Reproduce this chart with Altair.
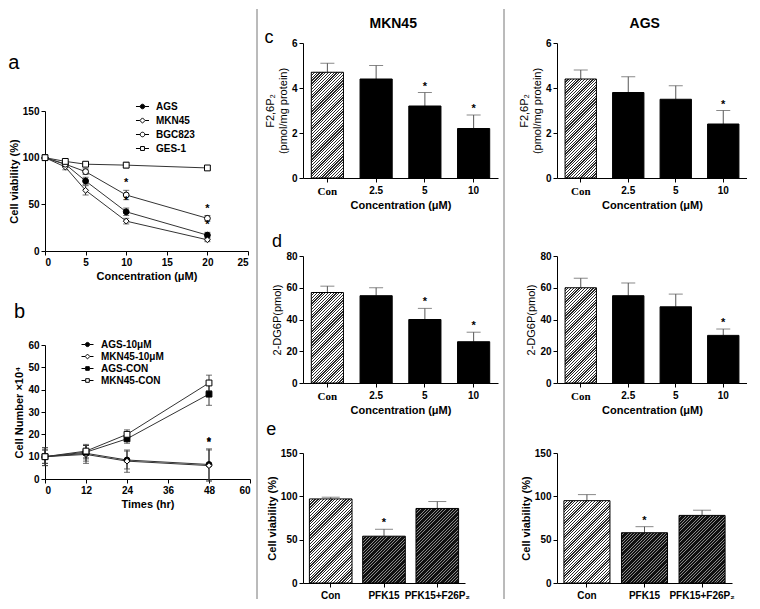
import altair as alt
import pandas as pd

# ---------------- data ----------------
# panel a: cell viability vs concentration
conc_a = [0, 2.5, 5, 10, 20]
series_a = ["AGS", "MKN45", "BGC823", "GES-1"]
ags_a = [100, 93, 75, 42, 17]
ags_a_err = [3, 3, 4, 4, 3]
ags_a_sig = [False, False, False, True, True]
mkn45_a = [100, 90, 65, 32, 12]
mkn45_a_err = [3, 3, 5, 3, 2]
mkn45_a_sig = [False, False, False, False, False]
bgc823_a = [100, 93, 85, 60, 35]
bgc823_a_err = [3, 3, 3, 5, 3]
bgc823_a_sig = [False, False, False, True, True]
ges1_a = [100, 96, 93, 92, 89]
ges1_a_err = [3, 2, 2, 3, 2]
ges1_a_sig = [False, False, False, False, False]

# panel b: cell number vs time
time_b = [0, 12, 24, 48]
series_b = ["AGS-10μM", "MKN45-10μM", "AGS-CON", "MKN45-CON"]
ags10_b = [10, 11.5, 8.5, 6.5]
ags10_b_err = [4, 3.5, 4, 7]
ags10_b_sig = [False, False, False, True]
mkn10_b = [10, 11, 8, 6]
mkn10_b_err = [4, 4, 5, 7]
mkn10_b_sig = [False, False, False, True]
agscon_b = [10, 12, 18, 38]
agscon_b_err = [3, 3, 2, 5]
agscon_b_sig = [False, False, False, False]
mkncon_b = [10, 12.5, 20, 43]
mkncon_b_err = [3, 3, 2, 3.5]
mkncon_b_sig = [False, False, False, False]

# panels c, d: concentration categories
conc_cats = ["Con", "2.5", "5", "10"]
f26_mkn = [4.7, 4.4, 3.2, 2.2]
f26_mkn_err = [0.4, 0.6, 0.6, 0.6]
f26_mkn_sig = [False, False, True, True]
f26_ags = [4.4, 3.8, 3.5, 2.4]
f26_ags_err = [0.4, 0.7, 0.6, 0.6]
f26_ags_sig = [False, False, False, True]
dg_mkn = [57, 55, 40, 26]
dg_mkn_err = [4, 5, 7, 6]
dg_mkn_sig = [False, False, True, True]
dg_ags = [60, 55, 48, 30]
dg_ags_err = [6, 8, 8, 4]
dg_ags_sig = [False, False, False, True]

# panel e: treatment categories
treat_cats = ["Con", "PFK15", "PFK15+F26P₂"]
via_mkn = [97, 54, 86]
via_mkn_err = [2, 8, 8]
via_mkn_sig = [False, True, False]
via_ags = [95, 58, 78]
via_ags_err = [7, 7, 6]
via_ags_sig = [False, True, False]

FONT = "Liberation Sans"
LINE = "#333333"

# legend symbols: short line with a marker on it
P_CIRCLE = "M-1,0H-0.35A0.35,0.35 0 1,1 0.35,0H1M0.35,0A0.35,0.35 0 1,1 -0.35,0"
P_DIAMOND = "M-1,0H-0.4L0,-0.4L0.4,0H1M0.4,0L0,0.4L-0.4,0"
P_SQUARE = "M-1,0H-0.3V-0.3H0.3V0H1M0.3,0V0.3H-0.3V0"


def series_df(xs, names, vals, errs, sigs, shapes, fills):
    rows = []
    for n, v, e, s, sh, fl in zip(names, vals, errs, sigs, shapes, fills):
        for xi, vi, ei, si in zip(xs, v, e, s):
            rows.append(dict(series=n, x=xi, y=vi, lo=vi - ei, hi=vi + ei, sig=si,
                             shp=sh, fil=fl))
    return pd.DataFrame(rows)


def line_panel(df, order, fills, leg_paths, xdom, xticks, ydom, yticks,
               xtitle, ytitle, title, w, h, legx, legy, symsize, rowpad, laboff):
    base = alt.Chart(df)
    xax = alt.Axis(values=xticks, title=xtitle, format="d")
    yax = alt.Axis(values=yticks, title=ytitle)
    xs = alt.Scale(domain=xdom, nice=False, zero=False, padding=0)
    ys = alt.Scale(domain=ydom, nice=False, padding=0)

    def X():
        return alt.X("x:Q", scale=xs, axis=xax)

    def Y(f):
        return alt.Y(f, scale=ys, axis=yax)

    lines = base.mark_line(color=LINE, strokeWidth=1).encode(X(), Y("y:Q"), detail="series:N")
    err = base.mark_rule(color=LINE, strokeWidth=1).encode(X(), Y("lo:Q"), alt.Y2("hi:Q"))
    cap_lo = base.mark_tick(orient="horizontal", size=6, thickness=1, color=LINE).encode(X(), Y("lo:Q"))
    cap_hi = base.mark_tick(orient="horizontal", size=6, thickness=1, color=LINE).encode(X(), Y("hi:Q"))
    pts = base.mark_point(filled=True, size=34, opacity=1, stroke="black", strokeWidth=1).encode(
        X(), Y("y:Q"),
        shape=alt.Shape("shp:N", scale=None, legend=None),
        fill=alt.Fill("fil:N", scale=None, legend=None),
    )
    stars = base.transform_filter("datum.sig").mark_text(
        text="*", dy=-7, fontSize=11, fontWeight="bold", color="black", font=FONT
    ).encode(X(), Y("hi:Q"))
    leg = alt.Legend(orient="none", legendX=legx, legendY=legy, title=None,
                     symbolSize=symsize, rowPadding=rowpad, labelOffset=laboff,
                     labelFont=FONT, labelFontSize=10, labelFontWeight="bold",
                     labelColor="black", symbolStrokeWidth=1, symbolOpacity=1)
    legl = base.transform_filter("false").mark_point(
        filled=True, opacity=1, strokeWidth=1
    ).encode(
        X(), Y("y:Q"),
        shape=alt.Shape("series:N", scale=alt.Scale(domain=order, range=leg_paths), legend=leg),
        fill=alt.Fill("series:N", scale=alt.Scale(domain=order, range=fills), legend=leg),
        stroke=alt.Stroke("series:N", scale=alt.Scale(domain=order, range=["black"] * len(order)),
                          legend=leg),
    )
    return alt.layer(lines, err, cap_lo, cap_hi, pts, stars, legl).resolve_scale(
        shape="independent", fill="independent", stroke="independent"
    ).properties(width=w, height=h, title=title)


# hatch styles: (line colour, background colour, share of line, period in px)
HATCH_LIGHT = ("#2a2a2a", "#ffffff", 0.45, 2.8)
HATCH_DARK = ("#111111", "#8a8a8a", 0.72, 2.8)
SOLID = None


def hatch(style, bw, bh):
    """Diagonal '/' stripes as a linear gradient over the bar's box."""
    if style is None:
        return "black"
    c_line, c_bg, share, period = style
    bh = max(bh, 1.0)
    k = (bw + bh) / (bw * bw + bh * bh)
    n = max(1, int(round((bw + bh) / period)))
    stops = []
    for i in range(n):
        a, m, b = i / n, (i + share) / n, (i + 1) / n
        stops += [alt.GradientStop(offset=a, color=c_line), alt.GradientStop(offset=m, color=c_line),
                  alt.GradientStop(offset=m, color=c_bg), alt.GradientStop(offset=b, color=c_bg)]
    return alt.LinearGradient(gradient="linear", x1=0, y1=0, x2=k * bw, y2=k * bh, stops=stops)


def bar_panel(cats, vals, errs, sigs, styles, ydom, yticks, ytitle, ytw, xtitle,
              title, w, h, pin, pout, capsize, con_serif):
    df = pd.DataFrame({"cat": cats, "val": vals,
                       "hi": [v + e for v, e in zip(vals, errs)], "sig": sigs})
    base = alt.Chart(df)
    if con_serif:
        lfont = {"condition": {"test": "datum.value === 'Con'", "value": "Liberation Serif"},
                 "value": FONT}
        lsize = {"condition": {"test": "datum.value === 'Con'", "value": 11}, "value": 10}
    else:
        lfont = FONT
        lsize = 10
    xax = alt.Axis(title=xtitle, labelAngle=0, labelFont=lfont, labelFontSize=lsize,
                   labelPadding=3)
    yax = alt.Axis(values=yticks, title=ytitle, titleFontWeight=ytw)
    xs = alt.Scale(domain=cats, paddingInner=pin, paddingOuter=pout)
    ys = alt.Scale(domain=ydom, nice=False)

    def X():
        return alt.X("cat:N", sort=cats, scale=xs, axis=xax)

    def Y(f):
        return alt.Y(f, scale=ys, axis=yax)

    step = w / (len(cats) - pin + 2 * pout)
    bw = step * (1 - pin)
    err = base.mark_rule(color="#555555", strokeWidth=1).encode(X(), Y("val:Q"), alt.Y2("hi:Q"))
    cap = base.mark_tick(color="#555555", size=capsize, thickness=1).encode(X(), Y("hi:Q"))
    bars = []
    for cat, val, st in zip(cats, vals, styles):
        bh = (val - ydom[0]) / (ydom[1] - ydom[0]) * h
        bars.append(
            base.transform_filter(alt.datum.cat == cat).mark_bar(
                fill=hatch(st, bw, bh), stroke="black", strokeWidth=1
            ).encode(X(), Y("val:Q"))
        )
    stars = base.transform_filter("datum.sig").mark_text(
        text="*", dy=-6, fontSize=11, fontWeight="bold", color="black", font=FONT
    ).encode(X(), Y("hi:Q"))
    return alt.layer(err, cap, *bars, stars).properties(width=w, height=h, title=title)


def ptitle(text, size=20, offset=2, lh=20):
    return alt.TitleParams(text=text, fontSize=size, fontWeight="normal", anchor="start",
                           frame="bounds", offset=offset, lineHeight=lh, font=FONT,
                           color="black")


# ---------------- left column ----------------
shapes_a = ["circle", "diamond", "circle", "square"]
fills_a = ["black", "white", "white", "white"]
df_a = series_df(conc_a, series_a,
                 [ags_a, mkn45_a, bgc823_a, ges1_a],
                 [ags_a_err, mkn45_a_err, bgc823_a_err, ges1_a_err],
                 [ags_a_sig, mkn45_a_sig, bgc823_a_sig, ges1_a_sig], shapes_a, fills_a)
panel_a = line_panel(
    df_a, series_a, fills_a, [P_CIRCLE, P_DIAMOND, P_CIRCLE, P_SQUARE],
    [0, 25], [0, 5, 10, 15, 20, 25], [0, 150], [0, 50, 100, 150],
    "Concentration (μM)", "Cell viability (%)", ptitle("a", 20, 26),
    203, 140, 90, -12, 170, 1, 6)

shapes_b = ["circle", "diamond", "square", "square"]
fills_b = ["black", "white", "black", "white"]
df_b = series_df(time_b, series_b,
                 [ags10_b, mkn10_b, agscon_b, mkncon_b],
                 [ags10_b_err, mkn10_b_err, agscon_b_err, mkncon_b_err],
                 [ags10_b_sig, mkn10_b_sig, agscon_b_sig, mkncon_b_sig], shapes_b, fills_b)
panel_b = line_panel(
    df_b, series_b, fills_b, [P_CIRCLE, P_DIAMOND, P_SQUARE, P_SQUARE],
    [0, 60], [0, 12, 24, 36, 48, 60], [0, 60], [0, 10, 20, 30, 40, 50, 60],
    "Times (hr)", "Cell Number ×10⁴", ptitle([" ", "b"], 20, 16, 18),
    205, 134, 36, -7, 144, 0, 7)

# a small empty strip that lines panel a up under the column titles
spacer = alt.Chart(pd.DataFrame({"v": [0]})).mark_point(opacity=0).encode(
    x=alt.value(0), y=alt.value(0)
).properties(width=200, height=7)

left = alt.vconcat(spacer, panel_a, panel_b, spacing=3)

# ---------------- middle / right columns ----------------
st_conc = [HATCH_LIGHT, SOLID, SOLID, SOLID]
st_treat = [HATCH_LIGHT, HATCH_DARK, HATCH_DARK]
f26_title = ["F2,6P₂", "(pmol/mg protein)"]


def column(names_vals, titles, w, we):
    (fm, fe, fs), (dm, de, ds), (vm, ve, vs) = names_vals
    c = bar_panel(conc_cats, fm, fe, fs, st_conc, [0, 6], [0, 2, 4, 6], f26_title, "normal",
                  "Concentration (μM)", titles[0], w, 135, 0.34, 0.17, 14, True)
    d = bar_panel(conc_cats, dm, de, ds, st_conc, [0, 80], [0, 20, 40, 60, 80], "2-DG6P(pmol)",
                  "normal", "Concentration (μM)", titles[1], w, 127, 0.34, 0.17, 14, True)
    e = bar_panel(treat_cats, vm, ve, vs, st_treat, [0, 150], [0, 50, 100, 150],
                  "Cell viability (%)", "bold", None, titles[2], we, 130, 0.2, 0.12, 18, False)
    return [c, d, e]


mid_panels = column(
    [(f26_mkn, f26_mkn_err, f26_mkn_sig), (dg_mkn, dg_mkn_err, dg_mkn_sig),
     (via_mkn, via_mkn_err, via_mkn_sig)],
    [ptitle("c", 18, -9), ptitle([" ", "d"], 18, 0, 17), ptitle("e", 18, 9)], 195, 162)
right_panels = column(
    [(f26_ags, f26_ags_err, f26_ags_sig), (dg_ags, dg_ags_err, dg_ags_sig),
     (via_ags, via_ags_err, via_ags_sig)],
    [ptitle(" ", 18, -9), ptitle([" ", " "], 18, 0, 17), ptitle(" ", 18, 9)], 190, 175)

coltitle = dict(fontSize=14, fontWeight="bold", anchor="middle", frame="bounds",
                offset=-2, dx=12, font=FONT, color="black")
mid = alt.vconcat(*mid_panels, spacing=6, title=alt.TitleParams(text="MKN45", **coltitle))
right = alt.vconcat(*right_panels, spacing=6, title=alt.TitleParams(text="AGS", **coltitle))


def divider(w, pos):
    return alt.Chart(pd.DataFrame({"v": [0]})).mark_rule(color="#777777", strokeWidth=1).encode(
        x=alt.value(pos), y=alt.value(-34), y2=alt.value(556)
    ).properties(width=w, height=1)


chart = alt.hconcat(left, divider(13, 6), mid, divider(20, 6), right, spacing=0).properties(
    padding=0
).configure_view(stroke=None).configure_axis(
    domainColor="black", tickColor="black", labelColor="black", titleColor="black",
    labelFont=FONT, titleFont=FONT, labelFontSize=10, titleFontSize=11,
    labelFontWeight="bold", titleFontWeight="bold", grid=False, tickSize=4,
    titlePadding=3, labelPadding=2, domainWidth=1, tickWidth=1
).configure_title(font=FONT, color="black")

chart.save("out.html", embed_options={"renderer": "svg", "actions": False})
